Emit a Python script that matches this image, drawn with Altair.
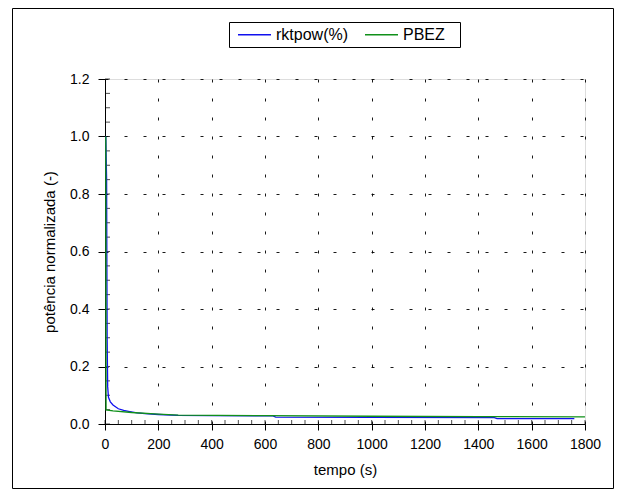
import altair as alt
import pandas as pd

# ---- data ----
t_rkt = [3, 6, 7, 8, 10, 13, 20, 30, 50, 70, 88, 120, 150, 200, 274, 400, 630, 640, 1000, 1460, 1470, 1760]
rkt = [1.0, 0.85, 0.55, 0.3, 0.13, 0.093, 0.077, 0.066, 0.053, 0.047, 0.044, 0.039, 0.036, 0.033,
       0.030, 0.029, 0.028, 0.024, 0.023, 0.022, 0.019, 0.019]

t_pbez = [3, 4, 30, 100, 200, 275, 600, 1000, 1400, 1800]
pbez = [1.0, 0.049, 0.046, 0.040, 0.034, 0.031, 0.029, 0.027, 0.026, 0.025]

series_names = ["rktpow(%)", "PBEZ"]
series_colors = ["#1010ee", "#10901a"]

x_ticks = list(range(0, 1801, 200))
y_ticks = [0.0, 0.2, 0.4, 0.6, 0.8, 1.0, 1.2]
x_minor = list(range(0, 1801, 50))
y_minor = [round(i * 0.05, 2) for i in range(25)]

FONT = "Liberation Sans"
W, H = 480, 345

rows = [{"t": t, "v": v, "s": series_names[0]} for t, v in zip(t_rkt, rkt)] + \
       [{"t": t, "v": v, "s": series_names[1]} for t, v in zip(t_pbez, pbez)]
df = pd.DataFrame(rows)

xscale = alt.Scale(domain=[0, 1800], nice=False, zero=False)
yscale = alt.Scale(domain=[0, 1.2], nice=False)

xaxis = alt.Axis(values=x_ticks, format="d", title="tempo (s)", grid=True, gridColor="#000",
                 gridDash=[3, 16], gridOpacity=0.9, tickSize=6, tickColor="#000", domainColor="#000",
                 labelPadding=7, labelFont=FONT, labelFontSize=14, labelColor="#000", titleFont=FONT,
                 titleFontSize=15, titleFontWeight="normal", titleColor="#000", titlePadding=11,
                 labelFlush=False)
yaxis = alt.Axis(values=y_ticks, format=".1f", title="potência normalizada (-)", grid=True, gridColor="#000",
                 gridDash=[3, 16], gridOpacity=0.9, tickSize=7, tickColor="#000", domainColor="#000",
                 labelPadding=9, labelFont=FONT, labelFontSize=14, labelColor="#000", titleFont=FONT,
                 titleFontSize=15, titleFontWeight="normal", titleColor="#000", titlePadding=12,
                 labelFlush=False)

lines = alt.Chart(df).mark_line(strokeWidth=1.3, clip=False).encode(
    x=alt.X("t:Q", scale=xscale, axis=xaxis),
    y=alt.Y("v:Q", scale=yscale, axis=yaxis),
    color=alt.Color("s:N", scale=alt.Scale(domain=series_names, range=series_colors),
                    sort=series_names,
                    legend=alt.Legend(title=None, orient="none", direction="horizontal",
                                      legendX=132, legendY=-62, symbolType="stroke", symbolSize=1089,
                                      symbolStrokeWidth=1.5, labelFont=FONT, labelFontSize=16,
                                      labelColor="#000", labelOffset=4, columnPadding=13, padding=0)),
    order=alt.Order("t:Q"),
)

xminor = alt.Chart(pd.DataFrame({"t": x_minor})).mark_tick(
    orient="vertical", size=4, thickness=1, color="#000", yOffset=-2).encode(
    x=alt.X("t:Q", scale=xscale), y=alt.datum(0))

yminor = alt.Chart(pd.DataFrame({"v": y_minor})).mark_tick(
    orient="horizontal", size=5, thickness=1, color="#000", xOffset=2.5).encode(
    y=alt.Y("v:Q", scale=yscale), x=alt.datum(0))

box_data = alt.Data(values=[{"k": 1}])
outer = alt.Chart(box_data).mark_rect(fill=None, stroke="#000", strokeWidth=1).encode(
    x=alt.value(-92.5), x2=alt.value(508.5), y=alt.value(-70.5), y2=alt.value(409.5))
legbox = alt.Chart(box_data).mark_rect(fill="#fff", stroke="#000", strokeWidth=1).encode(
    x=alt.value(124.5), x2=alt.value(355.5), y=alt.value(-56.5), y2=alt.value(-31.5))

chart = alt.layer(outer, legbox, xminor, yminor, lines).properties(
    width=W, height=H,
    autosize=alt.AutoSizeParams(type="none"),
    padding={"left": 97, "top": 71, "right": 33, "bottom": 66},
).configure_view(stroke="#000", strokeWidth=1).configure(background="#fff")

chart.save("out.html", embed_options={"renderer": "svg", "actions": False})
